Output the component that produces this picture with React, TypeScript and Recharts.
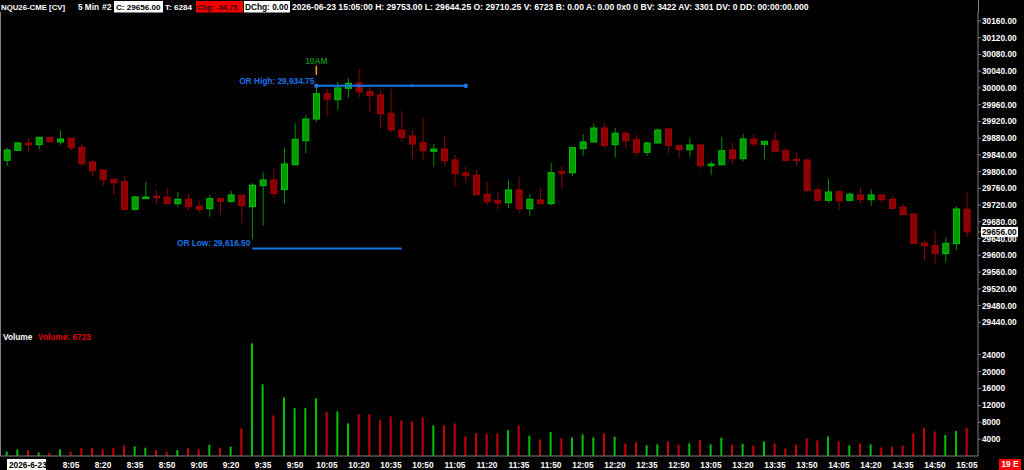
import { ComposedChart, BarChart, Bar, XAxis, YAxis, ReferenceLine, ReferenceDot, Cell } from 'recharts'

const FONT = '"Liberation Sans", Arial, sans-serif'

// 5 minute bars, NQU26 session 2026-06-23
const times = [
  '7:35', '7:40', '7:45', '7:50', '7:55',
  '8:00', '8:05', '8:10', '8:15', '8:20', '8:25', '8:30', '8:35', '8:40', '8:45', '8:50', '8:55',
  '9:00', '9:05', '9:10', '9:15', '9:20', '9:25', '9:30', '9:35', '9:40', '9:45', '9:50', '9:55',
  '10:00', '10:05', '10:10', '10:15', '10:20', '10:25', '10:30', '10:35', '10:40', '10:45', '10:50', '10:55',
  '11:00', '11:05', '11:10', '11:15', '11:20', '11:25', '11:30', '11:35', '11:40', '11:45', '11:50', '11:55',
  '12:00', '12:05', '12:10', '12:15', '12:20', '12:25', '12:30', '12:35', '12:40', '12:45', '12:50', '12:55',
  '13:00', '13:05', '13:10', '13:15', '13:20', '13:25', '13:30', '13:35', '13:40', '13:45', '13:50', '13:55',
  '14:00', '14:05', '14:10', '14:15', '14:20', '14:25', '14:30', '14:35', '14:40', '14:45', '14:50', '14:55',
  '15:00', '15:05',
]

const opens = [
  29827, 29851, 29868.5, 29864.5, 29882, 29871, 29879.75, 29858.25, 29823, 29804,
  29781.75, 29776, 29710, 29735.5, 29741, 29738.75, 29723.5, 29734, 29717.25, 29711.5,
  29735.5, 29729.25, 29743.5, 29716.25, 29766.5, 29780, 29757, 29816.5, 29874, 29925.75,
  29986.25, 29972, 29999.25, 30012, 29991, 29983.25, 29939.5, 29899.5, 29885.25, 29869.25,
  29848.75, 29854, 29828, 29796.75, 29791.25, 29746, 29730.5, 29725.75, 29756.25, 29711.5,
  29732.25, 29723.5, 29800, 29797.5, 29855, 29871, 29904.25, 29864.5, 29891.75, 29876.5,
  29846.25, 29868.5, 29902, 29862, 29852.5, 29863.75, 29814.25, 29816.5, 29851.75, 29831,
  29878, 29865.5, 29873.25, 29850, 29829.5, 29828, 29756.25, 29731.5, 29752, 29731.5,
  29744.25, 29733, 29744.25, 29734, 29714.75, 29698.75, 29629.5, 29623, 29604, 29628,
  29710.25,
]
const highs = [
  29857.25, 29871.5, 29881, 29883.5, 29882.5, 29899.5, 29880.5, 29867.75, 29826.25, 29804.5,
  29782, 29791.25, 29741.75, 29775.25, 29755.5, 29761.75, 29752, 29746.5, 29730.5, 29744.25,
  29736, 29753.75, 29744, 29772.25, 29798.5, 29805.5, 29857.25, 29915.5, 29934.75, 30000,
  29997.5, 30015, 30023, 30045.25, 30003, 29997.5, 29997.5, 29945, 29899.5, 29929,
  29866, 29886, 29839.75, 29812.75, 29804, 29776, 29751.5, 29779.5, 29787.25, 29746,
  29758.5, 29821.5, 29814.25, 29859.5, 29890, 29915.5, 29915.5, 29904, 29896.5, 29888.25,
  29871, 29903.5, 29906, 29862.5, 29880.5, 29866, 29824.75, 29882.75, 29869.25, 29890,
  29890, 29873, 29895.5, 29855.75, 29845.25, 29828.5, 29765.75, 29782.5, 29756.25, 29750.75,
  29762.5, 29757.75, 29744.5, 29741.75, 29722.75, 29699, 29634.25, 29658.25, 29642.25, 29716.25,
  29753,
]
const lows = [
  29813.5, 29849.5, 29847.75, 29852.5, 29871, 29864.5, 29851, 29814.25, 29788, 29765.75,
  29744.25, 29709.5, 29706.75, 29735.25, 29724.5, 29723, 29716.25, 29708.5, 29702, 29692.5,
  29698, 29725.75, 29676.5, 29639, 29671, 29738.75, 29723.5, 29816, 29844, 29919.5,
  29933.75, 29947.25, 29976.75, 29976.75, 29941, 29902, 29894, 29871.5, 29832, 29828,
  29811.75, 29816, 29764, 29773.5, 29744.5, 29720.25, 29710, 29714, 29699.5, 29694.75,
  29722, 29718.75, 29759.25, 29790.25, 29838, 29870.5, 29857.25, 29833.5, 29857.25, 29838,
  29838, 29868, 29844, 29831, 29835.75, 29806.5, 29792, 29816, 29820, 29824.75,
  29858.25, 29829.5, 29848.5, 29823.75, 29814.25, 29752, 29731.25, 29725.75, 29708.5, 29729.25,
  29722.75, 29718, 29725.75, 29710.75, 29695.75, 29626.5, 29587.25, 29577.75, 29584, 29612.75,
  29644.25,
]
const closes = [
  29851.75, 29868.5, 29864.5, 29882, 29871.5, 29878, 29857.25, 29819, 29802.25, 29780.75,
  29773.5, 29710, 29739.5, 29739.5, 29737.75, 29723.5, 29734, 29716.25, 29710, 29735.5,
  29729.25, 29744.25, 29718.75, 29767.5, 29780, 29748.25, 29818.25, 29877.25, 29925.75, 29986.25,
  29973.5, 30000, 30011, 29991, 29981.5, 29938.5, 29899.5, 29882, 29866, 29850,
  29854, 29826.25, 29795, 29790.25, 29745, 29728.25, 29725, 29756.25, 29711.5, 29734,
  29723.5, 29797.5, 29796, 29857.25, 29871, 29904.25, 29863, 29891.75, 29874, 29846.25,
  29868.5, 29899.5, 29863, 29852.5, 29863.75, 29814.25, 29818.25, 29850, 29831, 29878,
  29866, 29872.5, 29848.75, 29827, 29826.25, 29754.5, 29731.5, 29751.5, 29730.5, 29746,
  29733, 29744.25, 29733, 29712.5, 29697.25, 29628.75, 29623, 29604, 29628.75, 29710.75,
  29656,
]
const volumes = [
  1094, 1552, 1327, 853, 781, 1563, 1012, 1876, 1958, 1561,
  1962, 2514, 2268, 1957, 1330, 1008, 1402, 1879, 1556, 2671,
  1960, 2203, 6538, 26683, 16968, 9621, 13887, 11352, 11348, 13654,
  10398, 10572, 7727, 9934, 9928, 8441, 9377, 8437, 8203, 9148,
  7252, 7247, 7731, 4568, 5432, 5187, 5361, 6112, 7248, 4809,
  3928, 5671, 4168, 4412, 5118, 4407, 5363, 4572, 2987, 3224,
  2508, 2753, 3461, 2668, 2991, 3772, 2749, 4331, 2672, 2908,
  2437, 3458, 2993, 1802, 2667, 4172, 3698, 4643, 3457, 2512,
  2988, 2751, 2043, 2198, 2441, 5362, 6698, 5827, 4961, 5903,
  6723,
]

const priceTicks = [
  29440, 29480, 29520, 29560, 29600, 29640, 29680, 29720, 29760, 29800,
  29840, 29880, 29920, 29960, 30000, 30040, 30080, 30120, 30160,
]
const volumeTicks = [4000, 8000, 12000, 16000, 20000, 24000]
const timeLabels = [
  '8:05', '8:20', '8:35', '8:50', '9:05', '9:20', '9:35', '9:50', '10:05', '10:20',
  '10:35', '10:50', '11:05', '11:20', '11:35', '11:50', '12:05', '12:20', '12:35', '12:50',
  '13:05', '13:20', '13:35', '13:50', '14:05', '14:20', '14:35', '14:50', '15:05',
]

// opening range study
const orHighLevel = 30005
const orHighText = 'OR High: 29,934.75'
const orLowLevel = 29616.5
const orLowText = 'OR Low: 29,616.50'
const tenAmMarker = [30031, 30053]

const lastClose = closes[closes.length - 1]

const priceData = times.map((t, i) => ({
  time: t,
  open: opens[i],
  high: highs[i],
  low: lows[i],
  close: closes[i],
  range: [lows[i], highs[i]],
}))
const volumeData = times.map((t, i) => ({ time: t, volume: volumes[i], up: closes[i] >= opens[i] }))

const UP_BODY = '#009a00'
const UP_EDGE = '#00c400'
const UP_WICK = '#009000'
const DN_BODY = '#8a0000'
const DN_EDGE = '#a80000'
const DN_WICK = '#8c0000'
const OR_BLUE = '#1a73e8'

const Candle = (props: any) => {
  const { x, y, width, height, payload } = props
  const { open, close, high, low } = payload
  const up = close >= open
  const span = high - low || 1
  const toY = (v: number) => y + ((high - v) / span) * height
  const cx = x + width / 2
  const top = toY(Math.max(open, close))
  const bottom = toY(Math.min(open, close))
  return (
    <g>
      <rect x={cx - 0.5} y={y} width={1} height={height} fill={up ? UP_WICK : DN_WICK} />
      <rect
        x={cx - 3}
        y={top}
        width={6}
        height={Math.max(bottom - top, 1)}
        fill={up ? UP_BODY : DN_BODY}
        stroke={up ? UP_EDGE : DN_EDGE}
        strokeWidth={1}
      />
    </g>
  )
}

const PriceTick = ({ x, y, payload }: any) => {
  const v = payload.value
  if (v === lastClose) {
    return (
      <g>
        <rect x={x - 1} y={y - 5} width={37} height={10} fill="#fff" />
        <text x={x} y={y + 3} fill="#000" fontSize={8.3} fontWeight="bold" fontFamily={FONT}>{v.toFixed(2)}</text>
      </g>
    )
  }
  return (
    <text x={x} y={y + 3} fill="#fff" fontSize={8.3} fontWeight="bold" fontFamily={FONT}>{v.toFixed(2)}</text>
  )
}

const VolumeTick = ({ x, y, payload }: any) => (
  <text x={x} y={y + 3} fill="#fff" fontSize={8.3} fontWeight="bold" fontFamily={FONT}>{payload.value}</text>
)

const TimeTick = ({ x, y, payload, index }: any) => {
  if (index === 0) {
    return (
      <g>
        <rect x={x} y={y + 3} width={39} height={11} fill="#fff" />
        <text x={x + 2} y={y + 11.5} fill="#000" fontSize={8.3} fontWeight="bold" fontFamily={FONT}>2026-6-23</text>
      </g>
    )
  }
  if (!timeLabels.includes(payload.value)) return null
  return (
    <text x={x} y={y + 11.5} fill="#fff" textAnchor="middle" fontSize={8.3} fontWeight="bold" fontFamily={FONT}>
      {payload.value}
    </text>
  )
}

const labelLeft = (text: string) => (props: any) => {
  const vb = props.viewBox
  return (
    <text x={vb.x - 2} y={vb.y - 2} textAnchor="end" fill={OR_BLUE} fontSize={8.3} fontWeight="bold" fontFamily={FONT}>
      {text}
    </text>
  )
}

const tenAmLabel = (props: any) => {
  const vb = props.viewBox
  return (
    <text x={vb.x} y={vb.y - 2} textAnchor="middle" fill="#0b8a0b" fontSize={8.3} fontWeight="bold" fontFamily={FONT}>
      10AM
    </text>
  )
}

// title bar segments: left edge, font size, optional box
const headerItems = [
  { x: 1, size: 7.8, text: 'NQU26-CME [CV]' },
  { x: 78, size: 8.2, text: '5 Min' },
  { x: 102, size: 8.6, text: '#2' },
  { x: 116, size: 8.1, text: 'C: 29656.00', box: [114, 49], bg: '#fff', color: '#000' },
  { x: 165, size: 8.1, text: 'T: 6284' },
  { x: 197, size: 7.5, text: 'Chg: -54.75', box: [196, 47], bg: '#f00000', color: '#3a0000' },
  { x: 245, size: 8.3, text: 'DChg: 0.00', box: [244, 46], bg: '#fff', color: '#000' },
  { x: 292, size: 8.6, text: '2026-06-23 15:05:00 H: 29753.00 L: 29644.25 O: 29710.25 V: 6723 B: 0.00 A: 0.00 0x0 0 BV: 3422 AV: 3301 DV: 0 DD: 00:00:00.000' },
]

export default function App() {
  return (
    <div style={{ position: 'absolute', left: 0, top: 0, width: 1024, height: 470, background: '#000', overflow: 'hidden', fontFamily: FONT }}>
      <svg width={1024} height={13} style={{ position: 'absolute', left: 0, top: 0 }}>
        {headerItems.map(h => (
          <g key={h.text}>
            {h.box && <rect x={h.box[0]} y={1} width={h.box[1]} height={11.5} fill={h.bg} />}
            <text x={h.x} y={10} fill={h.color || '#fff'} fontSize={h.size} fontWeight="bold" fontFamily={FONT}>
              {h.text}
            </text>
          </g>
        ))}
        <rect x={978} y={0} width={1} height={13} fill="#808080" />
      </svg>
      <div style={{ position: 'absolute', left: 0, top: 12, width: 1, height: 444, background: '#808080' }} />

      <div style={{ position: 'absolute', left: 0, top: 0 }}>
        <ComposedChart width={1024} height={330} data={priceData} margin={{ top: 12, right: 0, bottom: 0, left: 0 }}>
          <XAxis dataKey="time" hide padding={{ left: 1.67, right: 5.7 }} />
          <YAxis
            orientation="right"
            width={46}
            type="number"
            domain={[29421.6, 30181.5]}
            allowDataOverflow
            ticks={[...priceTicks, lastClose]}
            interval={0}
            tick={<PriceTick />}
            tickSize={3}
            tickMargin={1}
            axisLine={{ stroke: '#808080' }}
            tickLine={{ stroke: '#808080' }}
          />
          <Bar dataKey="range" barSize={7} shape={(p: any) => <Candle {...p} />} isAnimationActive={false} />
          <ReferenceLine
            segment={[{ x: times[29], y: orHighLevel }, { x: times[43], y: orHighLevel }]}
            stroke={OR_BLUE}
            strokeWidth={2}
            label={labelLeft(orHighText)}
          />
          <ReferenceLine
            segment={[{ x: times[23], y: orLowLevel }, { x: times[37], y: orLowLevel }]}
            stroke={OR_BLUE}
            strokeWidth={2}
            label={labelLeft(orLowText)}
          />
          <ReferenceLine
            segment={[{ x: times[29], y: tenAmMarker[1] }, { x: times[29], y: tenAmMarker[0] }]}
            stroke="#f5a000"
            strokeWidth={1.5}
            label={tenAmLabel}
          />
          <ReferenceDot x={times[29]} y={orHighLevel} r={2.3} fill={OR_BLUE} stroke="none" />
          <ReferenceDot x={times[33]} y={orHighLevel} r={1.7} fill={OR_BLUE} stroke="none" />
          <ReferenceDot x={times[38]} y={orHighLevel} r={1.5} fill={OR_BLUE} stroke="none" />
          <ReferenceDot x={times[43]} y={orHighLevel} r={2.3} fill={OR_BLUE} stroke="none" />
        </ComposedChart>
      </div>

      <div style={{ position: 'absolute', left: 0, top: 330 }}>
        <BarChart width={1024} height={140} data={volumeData} margin={{ top: 0, right: 0, bottom: 0, left: 0 }}>
          <XAxis
            dataKey="time"
            height={14}
            padding={{ left: 1.67, right: 5.7 }}
            interval={0}
            tick={<TimeTick />}
            tickLine={false}
            tickSize={0}
            tickMargin={0}
            axisLine={{ stroke: '#808080' }}
          />
          <YAxis
            orientation="right"
            width={46}
            domain={[0, 29858]}
            allowDataOverflow
            ticks={volumeTicks}
            interval={0}
            tick={<VolumeTick />}
            tickSize={3}
            tickMargin={1}
            axisLine={{ stroke: '#808080' }}
            tickLine={{ stroke: '#808080' }}
          />
          <Bar dataKey="volume" barSize={2} isAnimationActive={false}>
            {volumeData.map(d => (
              <Cell key={d.time} fill={d.up ? '#00c000' : '#c80000'} />
            ))}
          </Bar>
        </BarChart>
      </div>

      <div style={{ position: 'absolute', left: 3, top: 332, fontSize: 8.3, fontWeight: 'bold', color: '#fff', lineHeight: '11px' }}>Volume</div>
      <div style={{ position: 'absolute', left: 38, top: 332, fontSize: 8.3, fontWeight: 'bold', color: '#e00000', lineHeight: '11px' }}>Volume: {volumes[volumes.length - 1]}</div>
      <div style={{ position: 'absolute', left: 999, top: 459, width: 22, height: 11, background: '#ff0000', color: '#fff', fontSize: 8.3, fontWeight: 'bold', lineHeight: '11px', textAlign: 'center' }}>19 E</div>
    </div>
  )
}
